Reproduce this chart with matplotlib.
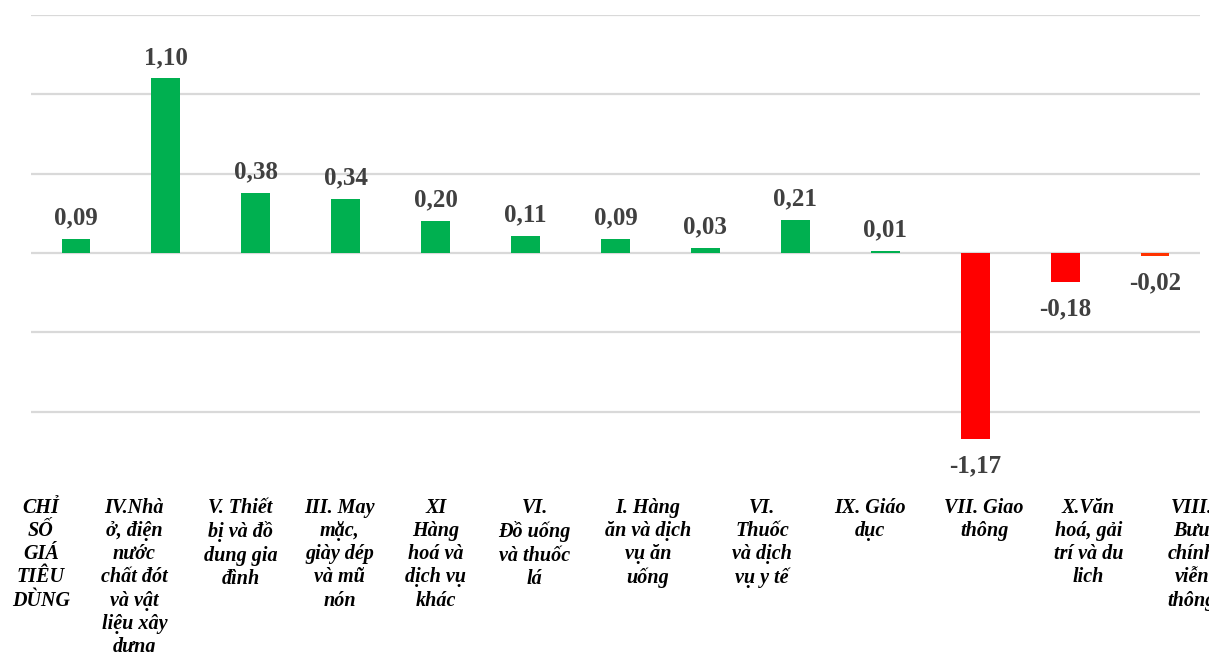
import matplotlib.pyplot as plt
import numpy as np

# data
categories = [
    "CHỈ\nSỐ\nGIÁ\nTIÊU\nDÙNG",
    "IV.Nhà\nở, điện\nnước\nchất đót\nvà vật\nliệu xây\ndựng",
    "V. Thiết\nbị và đồ\ndung gia\nđình",
    "III. May\nmặc,\ngiày dép\nvà mũ\nnón",
    "XI\nHàng\nhoá và\ndịch vụ\nkhác",
    "VI.\nĐồ uống\nvà thuốc\nlá",
    "I. Hàng\năn và dịch\nvụ ăn\nuống",
    "VI.\nThuốc\nvà dịch\nvụ y tế",
    "IX. Giáo\ndục",
    "VII. Giao\nthông",
    "X.Văn\nhoá, gải\ntrí và du\nlich",
    "VIII.\nBưu\nchính\nviễn\nthông",
]
values = [0.09, 1.10, 0.38, 0.34, 0.20, 0.11, 0.09, 0.03, 0.21, 0.01, -1.17, -0.18, -0.02]
value_labels = ["0,09", "1,10", "0,38", "0,34", "0,20", "0,11", "0,09", "0,03",
                "0,21", "0,01", "-1,17", "-0,18", "-0,02"]
bar_colors = ["#00B050"] * 10 + ["#FF0000", "#FF0000", "#FF3300"]

# the category captions sit in their own row, not centred on the bars
label_x = [-0.39, 0.65, 1.83, 2.93, 4.0, 5.1, 6.36, 7.63, 8.83, 10.1, 11.26, 12.41]

W, H = 1209, 652
fig = plt.figure(figsize=(W / 100, H / 100), dpi=100)
ax = fig.add_axes([31 / W, 1 - 483 / H, (1200 - 31) / W, (483 - 15) / H])

x = np.arange(len(values))
ax.bar(x, values, width=0.32, color=bar_colors, zorder=3)

ax.set_xlim(-0.5, len(values) - 0.5)
ax.set_ylim(-1.45, 1.5)
ax.set_yticks([-1.0, -0.5, 0.0, 0.5, 1.0, 1.5])
ax.yaxis.grid(True, color="#D9D9D9", lw=1.6, zorder=0)
ax.tick_params(left=False, labelleft=False, bottom=False, labelbottom=False)
for s in ax.spines.values():
    s.set_visible(False)

for xi, v, t in zip(x, values, value_labels):
    off = 10.5 if v >= 0 else -24
    ax.annotate(t, (xi, v), xytext=(0, off), textcoords="offset points",
                ha="center", va="baseline", fontsize=18, fontweight="bold",
                family="Liberation Serif", color="#404040")

for lx, lab in zip(label_x, categories):
    ax.annotate(lab, (lx, 0), xycoords=("data", "figure fraction"),
                xytext=(0, (H - 498) * 0.72), textcoords="offset points",
                ha="center", va="top", fontsize=14.5, fontweight="bold",
                fontstyle="italic", family="Liberation Serif",
                linespacing=1.21, color="black", annotation_clip=False)

fig.savefig("out.png", dpi=100)
